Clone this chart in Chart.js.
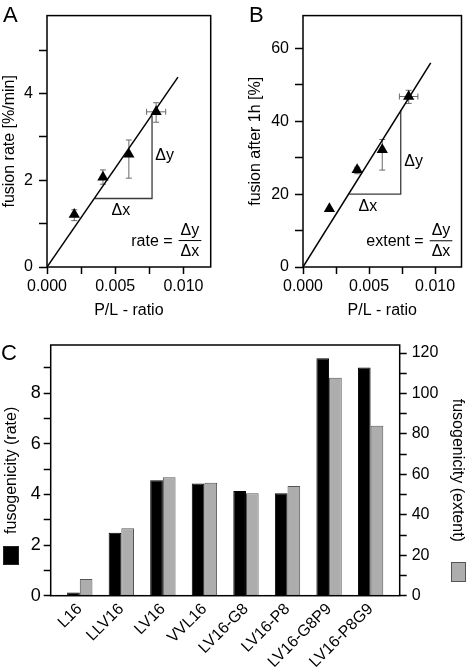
<!DOCTYPE html>
<html>
<head>
<meta charset="utf-8">
<script src="https://cdn.jsdelivr.net/npm/chart.js@4/dist/chart.umd.min.js"></script>
<style>
body { margin: 0; background: #fff; font-family: "Liberation Sans", Arial, sans-serif; }
#wrap { position: relative; width: 468px; height: 672px; overflow: hidden; }
canvas { position: absolute; }
.letter { position: absolute; font-size: 22px; line-height: 1; color: #000; }
.key { position: absolute; box-sizing: border-box; }
</style>
</head>
<body>
<div id="wrap">
  <canvas id="chartA" width="234" height="320" style="left:0;top:0"></canvas>
  <canvas id="chartB" width="234" height="320" style="left:234px;top:0"></canvas>
  <canvas id="chartC" width="468" height="352" style="left:0;top:320px"></canvas>
  <div class="letter" style="left:3px;top:4px">A</div>
  <div class="letter" style="left:249px;top:4px">B</div>
  <div class="letter" style="left:1px;top:342px">C</div>
  <div class="key" style="left:3px;top:546px;width:16px;height:19px;background:#000;border:1px solid #222"></div>
  <div class="key" style="left:451px;top:562px;width:15px;height:20px;background:#adadad;border:1px solid #555"></div>
</div>
<script>
// panel A / B: P/L ratio of the four measured points
const plRatio = [0.002, 0.0041, 0.006, 0.008];
const plErrLow = [null, null, null, 0.0073];
const plErrHigh = [null, null, null, 0.0087];

// panel A: fusion rate [%/min]
const rateVals = [1.21, 2.07, 2.6, 3.58];
const rateErrLow = [1.07, 1.91, 2.05, 3.34];
const rateErrHigh = [1.32, 2.24, 2.93, 3.79];
const rateFitX = [0, 0.0096];
const rateFitY = [0, 4.38];
const rateTriX = [0.0035, 0.0077, 0.0077];
const rateTriY = [1.58, 1.58, 3.49];

// panel B: fusion after 1h [%]
const extentVals = [16.0, 26.7, 32.2, 46.8];
const extentErrLow = [null, 25.6, 26.6, 44.9];
const extentErrHigh = [null, 27.4, 35.0, 48.5];
const extentFitX = [0, 0.00967];
const extentFitY = [0, 56];
const extentTriX = [0.0035, 0.0074, 0.0074];
const extentTriY = [20, 20, 43];

// panel C: fusogenicity per peptide
const peptides = ['L16', 'LLV16', 'LV16', 'VVL16', 'LV16-G8', 'LV16-P8', 'LV16-G8P9', 'LV16-P8G9'];
const fusRate = [0.13, 2.49, 4.56, 4.43, 4.13, 4.05, 9.38, 9.01];
const fusExtent = [8.3, 33.4, 58.6, 55.9, 50.7, 54.3, 107.8, 84.0];

const FONT = '"Liberation Sans", Arial, sans-serif';
Chart.defaults.font.family = FONT;
Chart.defaults.color = '#000';

const pts = (xs, ys) => xs.map((x, i) => ({x: x, y: ys[i]}));

function framePlugin() {
  return {
    id: 'frame',
    afterDraw(chart) {
      const a = chart.chartArea, ctx = chart.ctx;
      ctx.save();
      ctx.strokeStyle = '#000';
      ctx.lineWidth = 1.5;
      ctx.strokeRect(a.left, a.top, a.right - a.left, a.bottom - a.top);
      ctx.restore();
    }
  };
}

function fitPlugin(o) {
  return {
    id: 'fitExtras',
    beforeDatasetsDraw(chart) {
      const ctx = chart.ctx, x = chart.scales.x, y = chart.scales.y;
      ctx.save();
      ctx.strokeStyle = '#6a6a6a';
      ctx.lineWidth = 1;
      const seg = (x1, y1, x2, y2) => { ctx.beginPath(); ctx.moveTo(x1, y1); ctx.lineTo(x2, y2); ctx.stroke(); };
      o.xs.forEach((xv, i) => {
        const cx = x.getPixelForValue(xv), cy = y.getPixelForValue(o.ys[i]);
        if (o.lo[i] != null) {
          const a = y.getPixelForValue(o.lo[i]), b = y.getPixelForValue(o.hi[i]);
          seg(cx, a, cx, b); seg(cx - 3, a, cx + 3, a); seg(cx - 3, b, cx + 3, b);
        }
        if (o.xlo[i] != null) {
          const a = x.getPixelForValue(o.xlo[i]), b = x.getPixelForValue(o.xhi[i]);
          seg(a, cy, b, cy); seg(a, cy - 3, a, cy + 3); seg(b, cy - 3, b, cy + 3);
        }
      });
      ctx.restore();
    },
    afterDraw(chart) {
      const ctx = chart.ctx, x = chart.scales.x, y = chart.scales.y;
      ctx.save();
      ctx.fillStyle = '#000';
      ctx.font = '16px ' + FONT;
      ctx.textAlign = 'center';
      ctx.textBaseline = 'middle';
      ctx.fillText('\u0394y', x.getPixelForValue(o.dy[0]), y.getPixelForValue(o.dy[1]));
      ctx.fillText('\u0394x', x.getPixelForValue(o.dx[0]), y.getPixelForValue(o.dx[1]));
      // formula: "<name> = Δy / Δx"
      const fx = x.getPixelForValue(o.frac[0]), fy = y.getPixelForValue(o.frac[1]);
      const w = ctx.measureText('\u0394y').width + 4;
      ctx.fillText('\u0394y', fx, fy - 10);
      ctx.fillText('\u0394x', fx, fy + 11);
      ctx.strokeStyle = '#000';
      ctx.lineWidth = 1;
      ctx.beginPath(); ctx.moveTo(fx - w / 2, fy); ctx.lineTo(fx + w / 2, fy); ctx.stroke();
      ctx.textAlign = 'right';
      ctx.fillText(o.name + ' =', fx - w / 2 - 6, fy + 1);
      ctx.restore();
    }
  };
}

function fitChart(id, o) {
  return new Chart(document.getElementById(id), {
    type: 'scatter',
    data: {
      datasets: [
        { data: pts(o.xs, o.ys), pointStyle: 'triangle', pointRadius: 6.5, pointHoverRadius: 6.5,
          backgroundColor: '#000', borderColor: '#000', borderWidth: 0 },
        { type: 'line', data: pts(o.fitX, o.fitY), borderColor: '#000', borderWidth: 1.5, pointRadius: 0, fill: false },
        { type: 'line', data: pts(o.triX, o.triY), borderColor: '#3a3a3a', borderWidth: 1.3, pointRadius: 0, fill: false }
      ]
    },
    options: {
      responsive: false,
      animation: false,
      layout: { padding: o.pad },
      plugins: { legend: { display: false }, tooltip: { enabled: false } },
      scales: {
        x: {
          type: 'linear', min: 0, max: 0.012,
          afterFit: s => { s.height = 53; },
          border: { display: false },
          grid: { drawOnChartArea: false, tickLength: 7, tickColor: '#000', tickWidth: 1.5 },
          ticks: { stepSize: 0.0025, includeBounds: false, autoSkip: false, maxRotation: 0, padding: 3,
            font: { size: 16 },
            callback: v => Math.round(v / 0.0025) % 2 === 0 ? v.toFixed(3) : '' },
          title: { display: true, text: 'P/L - ratio', font: { size: 16 }, padding: 0 }
        },
        y: {
          type: 'linear', min: 0, max: o.yMax,
          afterFit: s => { s.width = o.yWidth; },
          border: { display: false },
          grid: { drawOnChartArea: false, tickLength: 8, tickColor: '#000', tickWidth: 1.5 },
          ticks: { stepSize: o.yStep, includeBounds: false, autoSkip: false, padding: 6,
            font: { size: 16 },
            callback: v => Math.round(v / o.yStep) % 2 === 0 ? String(v) : '' },
          title: { display: true, text: o.yTitle, font: { size: 16 }, padding: { top: o.titlePad, bottom: 0 } }
        }
      }
    },
    plugins: [fitPlugin(o), framePlugin()]
  });
}

fitChart('chartA', {
  xs: plRatio, ys: rateVals, lo: rateErrLow, hi: rateErrHigh, xlo: plErrLow, xhi: plErrHigh,
  fitX: rateFitX, fitY: rateFitY, triX: rateTriX, triY: rateTriY,
  yMax: 5.8, yStep: 1, yTitle: 'fusion rate [%/min]', yWidth: 47, titlePad: 0,
  pad: { top: 2, right: 23.3, left: 0, bottom: 0 },
  dy: [0.00862, 2.57], dx: [0.00542, 1.30], frac: [0.01048, 0.61], name: 'rate'
});

fitChart('chartB', {
  xs: plRatio, ys: extentVals, lo: extentErrLow, hi: extentErrHigh, xlo: plErrLow, xhi: plErrHigh,
  fitX: extentFitX, fitY: extentFitY, triX: extentTriX, triY: extentTriY,
  yMax: 69, yStep: 10, yTitle: 'fusion after 1h [%]', yWidth: 69, titlePad: 12,
  pad: { top: 2, right: 3.3, left: 0, bottom: 0 },
  dy: [0.00837, 28.9], dx: [0.00491, 16.7], frac: [0.01045, 7.2], name: 'extent'
});

new Chart(document.getElementById('chartC'), {
  type: 'bar',
  data: {
    datasets: [
      { label: 'rate', data: pts(peptides.map((p, i) => i), fusRate), yAxisID: 'y',
        backgroundColor: '#000', borderColor: '#000', borderWidth: 1,
        categoryPercentage: 0.61, barPercentage: 1 },
      { label: 'extent', data: pts(peptides.map((p, i) => i), fusExtent), yAxisID: 'y1',
        backgroundColor: '#adadad', borderColor: '#555', borderWidth: 1,
        categoryPercentage: 0.61, barPercentage: 1 }
    ]
  },
  options: {
    responsive: false,
    animation: false,
    layout: { padding: { top: 25, left: 0, right: 0, bottom: 0 } },
    plugins: { legend: { display: false }, tooltip: { enabled: false } },
    scales: {
      x: {
        type: 'linear', min: -0.7, max: 7.7, offset: false,
        afterFit: s => { s.height = 76.3; },
        afterBuildTicks: s => { s.ticks = peptides.map((p, i) => ({ value: i })); },
        border: { display: false },
        grid: { display: false, drawTicks: false, offset: false },
        ticks: { autoSkip: false, minRotation: 45, maxRotation: 45, padding: 4,
          font: { size: 16 }, callback: v => peptides[v] }
      },
      y: {
        position: 'left', min: 0, max: 9.9,
        afterFit: s => { s.width = 50.7; },
        border: { display: false },
        grid: { drawOnChartArea: false, tickLength: 7, tickColor: '#000', tickWidth: 1.5 },
        ticks: { stepSize: 1, includeBounds: false, autoSkip: false, padding: 3, font: { size: 18 },
          callback: v => v % 2 === 0 ? String(v) : '' },
        title: { display: true, text: 'fusogenicity (rate)', font: { size: 16 }, padding: { top: 2.4, bottom: 0 } }
      },
      y1: {
        position: 'right', min: 0, max: 124,
        afterFit: s => { s.width = 68.3; },
        border: { display: false },
        grid: { drawOnChartArea: false, tickLength: 7, tickColor: '#000', tickWidth: 1.5 },
        ticks: { stepSize: 10, includeBounds: false, autoSkip: false, padding: 5, font: { size: 16 },
          callback: v => v % 20 === 0 ? String(v) : '' },
        title: { display: true, text: 'fusogenicity (extent)', font: { size: 16 }, padding: { top: 1.4, bottom: 0 } }
      }
    }
  },
  plugins: [framePlugin()]
});
</script>
</body>
</html>
